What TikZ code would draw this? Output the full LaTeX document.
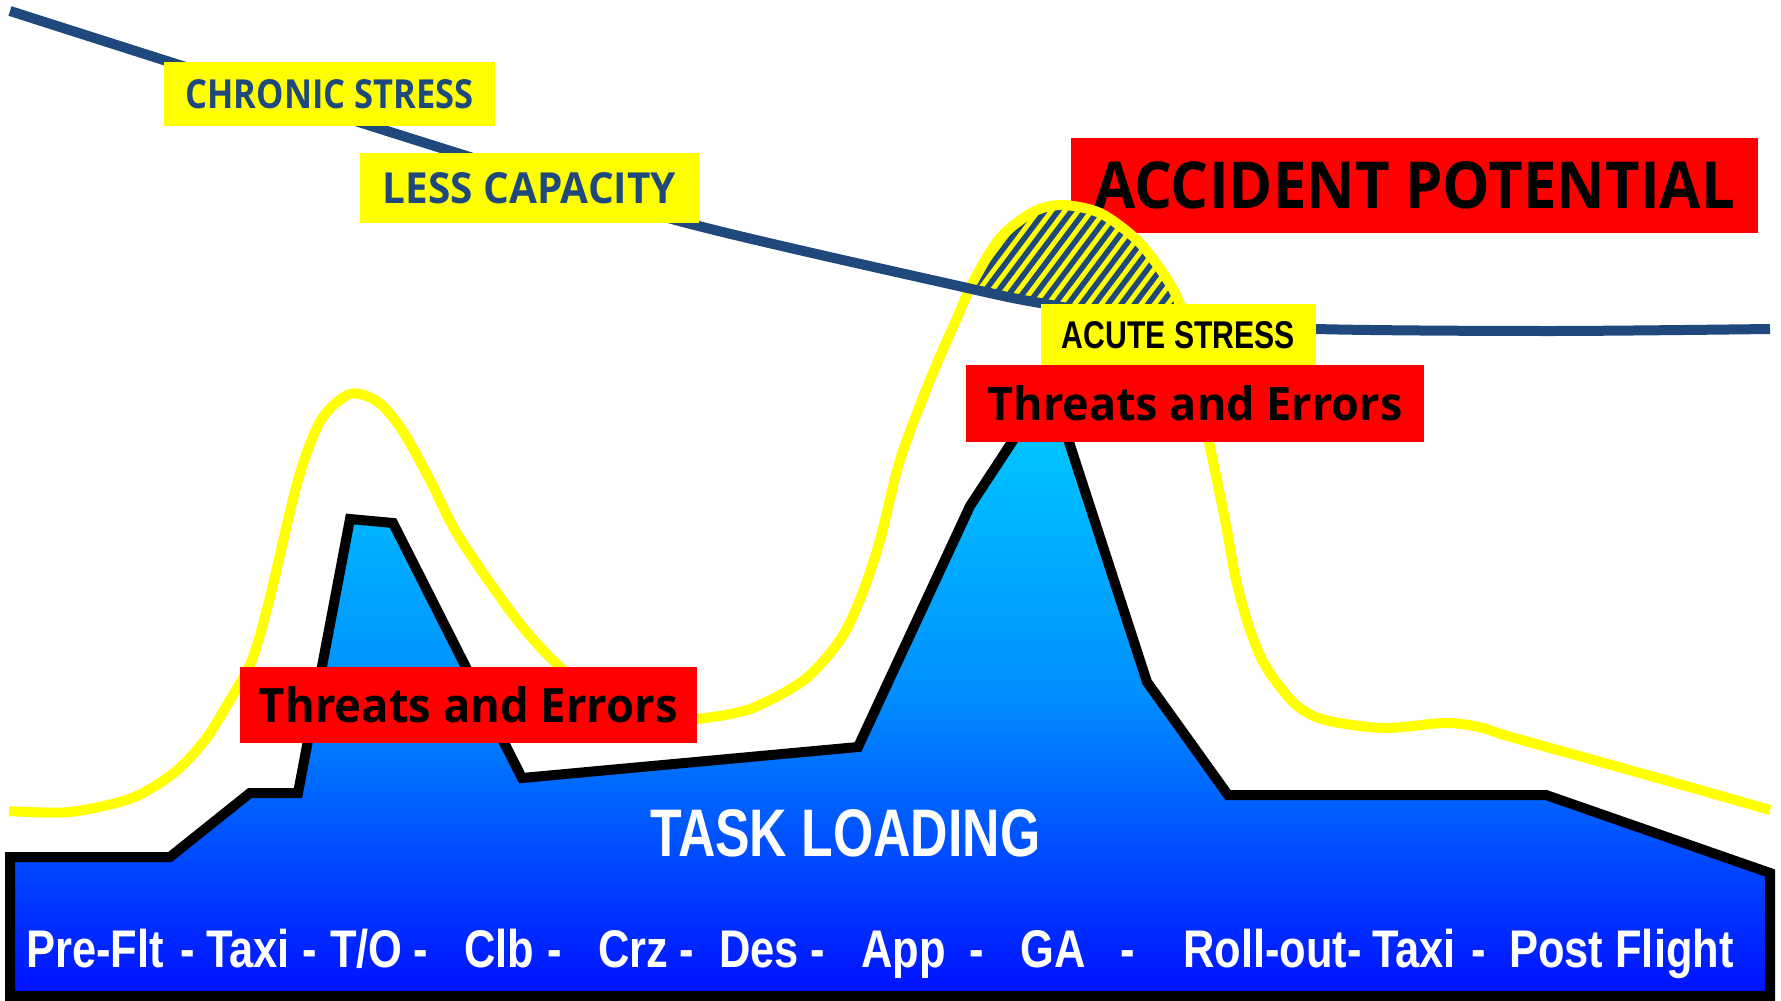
\documentclass[tikz,border=0pt]{standalone}
\usepackage{fontspec}
\usepackage{graphicx}
\setmainfont{Liberation Sans}
\newfontfamily\osans{Open Sans}
\newfontfamily\lsans{Liberation Sans}
\definecolor{lineblue}{RGB}{31,73,125}
\definecolor{ylw}{RGB}{255,255,0}
\definecolor{redbox}{RGB}{255,0,0}
\definecolor{gtop}{RGB}{0,208,255}
\definecolor{gmid}{RGB}{0,144,255}
\definecolor{gbot}{RGB}{0,16,255}
\newcommand\fitbox[3]{\resizebox{#1pt}{#2pt}{#3}}
\begin{document}
\begin{tikzpicture}[x=1pt,y=-1pt,
  lbox/.style={inner sep=0pt, outer sep=0pt, anchor=center},
  ylwbox/.style={lbox, fill=ylw},
  redbx/.style={lbox, fill=redbox, text=black},
  stressline/.style={draw=lineblue, line width=10pt},
  acuteline/.style={draw=ylw, line width=10pt},
  stripe/.style={draw=lineblue, line width=5.5pt},
  tasktxt/.style={anchor=base west, inner sep=0pt, text=white},
  phase/.style={anchor=base west, inner sep=0pt, text=white, font=\lsans\bfseries\fontsize{53}{60}\selectfont}]
\useasboundingbox (0,0) rectangle (1781,1001);
\fill[white] (0,0) rectangle (1781,1001);

% accident potential box (behind the acute stress hump)
\node[redbx, minimum width=687pt, minimum height=95pt] (accident) at (1414.5,185.5)
  {\fitbox{641}{47}{\osans\bfseries ACCIDENT POTENTIAL}};

% hatched area between acute stress curve and chronic stress line
\begin{scope}
  \clip (0,-50) -- (0,11) -- plot[smooth] coordinates {(10,11) (173,63) (457,153) (683,222) (963,287) (1040,303) (1150,320) (1316,329) (1550,331) (1770,329)} -- (1781,329) -- (1781,-50) -- cycle;
  \clip plot[smooth] coordinates {(804,680) (840,640) (861,597) (880,540) (900,460) (930,380) (957,318) (973,282) (1000,238) (1033,212) (1062,205) (1100,213) (1137,240) (1163,273) (1180,305) (1195,370) (1209,442) (1225,520) (1236,580)} -- cycle;
  \fill[ylw] (850,150) rectangle (1260,360);
  \foreach \k in {0,...,32} \draw[stripe] ({840+\k*13.3},360) -- ++(165,-220);
\end{scope}

% acute stress curve
\draw[acuteline] plot[smooth] coordinates {(9,811) (70,812) (132,798) (175,772) (205,740) (230,700) (252,660) (270,597) (298,480) (321,420) (350,394) (378,402) (402,430) (430,480) (459,537) (517,620) (560,667) (610,706) (660,720) (697,719) (750,709) (804,680) (840,640) (861,597) (880,540) (900,460) (930,380) (957,318) (973,282) (1000,238) (1033,212) (1062,205) (1100,213) (1137,240) (1163,273) (1180,305) (1195,370) (1209,442) (1225,520) (1236,580) (1250,630) (1266,667) (1295,704) (1325,720) (1384,728) (1444,723) (1479,727) (1511,737) (1640,773) (1770,810)};

% chronic stress line
\draw[stressline] plot[smooth] coordinates {(10,11) (173,63) (457,153) (683,222) (963,287) (1040,303) (1150,320) (1316,329) (1550,331) (1770,329)};

% task loading profile
\draw[draw=black, line width=10pt, top color=gtop, bottom color=gbot, middle color=gmid]
  (10,996) -- (10,857) -- (170,857) -- (250,793) -- (298,793) -- (350,519) -- (393,523)
  -- (522,778) -- (858,747) -- (970,506) -- (1012,442) -- (1047,383) -- (1069,442)
  -- (1147,682) -- (1228,795) -- (1546,795) -- (1770,873) -- (1770,996) -- cycle;

% labels
\node[ylwbox, text=lineblue, minimum width=331pt, minimum height=64pt] (chronic) at (329.5,94)
  {\fitbox{288}{29}{\osans\bfseries CHRONIC STRESS}};
\node[ylwbox, text=lineblue, minimum width=339pt, minimum height=70pt] (capacity) at (529.5,188)
  {\fitbox{293}{31}{\osans\bfseries LESS CAPACITY}};
\node[ylwbox, text=black, minimum width=275pt, minimum height=63pt] (acute) at (1178.5,335.5)
  {\fitbox{233}{27}{\lsans\bfseries ACUTE STRESS}};
\node[redbx, minimum width=458pt, minimum height=77pt] (threatsB) at (1195,403.5)
  {\fitbox{415}{35}{\osans\bfseries Threats and Errors}};
\node[redbx, minimum width=457pt, minimum height=76pt] (threatsA) at (468.5,705)
  {\fitbox{419}{36}{\osans\bfseries Threats and Errors}};

\node[tasktxt] (task) at (650,856) {\fitbox{390}{47}{\lsans\bfseries TASK LOADING}};

\foreach \x/\t [count=\i] in {26/Pre-Flt, 180/-, 206/Taxi, 302/-, 330/{T/O}, 413/-, 464/Clb, 547/-, 598/Crz, 679/-, 719/Des, 810/-, 861/App, 969/-, 1020/GA, 1120/-, 1183/Roll-out-, 1372/Taxi, 1471/-, 1509/Post Flight}
  \node[phase] (phase\i) at (\x,967) {\scalebox{0.82}[1]{\t}};
\end{tikzpicture}
\end{document}
